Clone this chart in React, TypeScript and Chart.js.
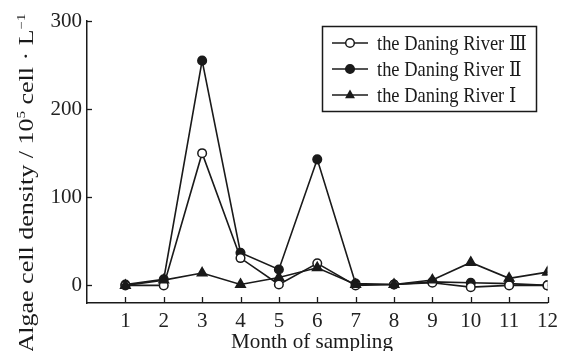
import React, { useEffect, useRef } from 'react';
import { Chart, registerables } from 'chart.js';

Chart.register(...registerables);

const months = [1, 2, 3, 4, 5, 6, 7, 8, 9, 10, 11, 12];
const riverIII = [0, 0, 150, 31, 1, 25, 0, 1, 3, -2, 0, 0];
const riverII = [1, 7, 255, 37, 18, 143, 2, 1, 4, 3, 2, 0];
const riverI = [0, 6, 14, 1, 9, 20, 1, 1, 6, 26, 8, 15];
const yTicks = [0, 100, 200, 300];
const seriesLabels = ['the Daning River \u2162', 'the Daning River \u2161', 'the Daning River \u2160'];
const xTitle = 'Month of sampling';
const yTitleParts: [string, boolean][] = [
  ['Algae cell density / 10', false],
  ['5', true],
  [' cell \u00b7 L', false],
  ['\u22121', true],
];

const FONT = '"Liberation Serif", "DejaVu Serif", "Times New Roman", serif';
const INK = '#1a1a1a';

function drawMarker(ctx: CanvasRenderingContext2D, kind: number, x: number, y: number) {
  ctx.save();
  ctx.lineWidth = 1.5;
  ctx.strokeStyle = INK;
  if (kind === 2) {
    const r = 5.5;
    ctx.beginPath();
    ctx.moveTo(x, y - r);
    ctx.lineTo(x + r * 0.9, y + r * 0.6);
    ctx.lineTo(x - r * 0.9, y + r * 0.6);
    ctx.closePath();
    ctx.fillStyle = INK;
    ctx.fill();
  } else {
    ctx.beginPath();
    ctx.arc(x, y, 4.3, 0, Math.PI * 2);
    ctx.fillStyle = kind === 0 ? '#ffffff' : INK;
    ctx.fill();
    ctx.stroke();
  }
  ctx.restore();
}

const decorPlugin = {
  id: 'decor',
  afterDraw(chart: any) {
    const ctx: CanvasRenderingContext2D = chart.ctx;
    const xs = chart.scales.x;
    const ys = chart.scales.y;
    const area = chart.chartArea;
    ctx.save();
    ctx.strokeStyle = INK;
    ctx.lineWidth = 1.3;
    for (const v of yTicks) {
      const py = Math.round(ys.getPixelForValue(v)) + 0.5;
      ctx.beginPath();
      ctx.moveTo(area.left, py);
      ctx.lineTo(area.left + 5, py);
      ctx.stroke();
    }
    for (const m of months) {
      const px = Math.round(xs.getPixelForValue(m)) + 0.5;
      ctx.beginPath();
      ctx.moveTo(px, area.bottom);
      ctx.lineTo(px, area.bottom - 6);
      ctx.stroke();
    }
    // legend
    const bx = 322, by = 26, bw = 214, bh = 85;
    ctx.lineWidth = 1.5;
    ctx.strokeRect(bx + 0.5, by + 0.5, bw, bh);
    const rowY = [43, 69, 95];
    ctx.font = '21px ' + FONT;
    ctx.fillStyle = INK;
    ctx.textBaseline = 'middle';
    ctx.textAlign = 'left';
    for (let i = 0; i < 3; i++) {
      const y = rowY[i];
      ctx.beginPath();
      ctx.lineWidth = 1.5;
      ctx.moveTo(332, y);
      ctx.lineTo(368, y);
      ctx.stroke();
      drawMarker(ctx, i, 350, y);
      ctx.save();
      ctx.translate(377, y + 1);
      ctx.scale(0.88, 1);
      ctx.fillText(seriesLabels[i], 0, 0);
      ctx.restore();
    }
    // x title
    ctx.save();
    ctx.font = '22px ' + FONT;
    ctx.textBaseline = 'alphabetic';
    ctx.textAlign = 'center';
    ctx.translate(312, 348);
    ctx.scale(0.96, 1);
    ctx.fillText(xTitle, 0, 0);
    ctx.restore();
    // y title
    ctx.save();
    ctx.translate(33, 183);
    ctx.rotate(-Math.PI / 2);
    ctx.scale(1, 0.8);
    ctx.textAlign = 'left';
    ctx.textBaseline = 'alphabetic';
    const mainFont = '26px ' + FONT;
    const supFont = '15px ' + FONT;
    let total = 0;
    for (const [t, sup] of yTitleParts) {
      ctx.font = sup ? supFont : mainFont;
      total += ctx.measureText(t).width;
    }
    let x = -total / 2;
    for (const [t, sup] of yTitleParts) {
      ctx.font = sup ? supFont : mainFont;
      ctx.fillText(t, x, sup ? -10 : 0);
      x += ctx.measureText(t).width;
    }
    ctx.restore();
    ctx.restore();
  },
};

export default function App() {
  const ref = useRef<HTMLCanvasElement>(null);
  useEffect(() => {
    if (!ref.current) return;
    Chart.defaults.font.family = FONT;
    const mk = (label: string, data: number[], style: string, fill: string, r: number) => ({
      label,
      data: months.map((m, i) => ({ x: m, y: data[i] })),
      borderColor: INK,
      borderWidth: 1.6,
      pointStyle: style,
      pointRadius: r,
      pointBackgroundColor: fill,
      pointBorderColor: INK,
      pointBorderWidth: 1.5,
      tension: 0,
    });
    const chart = new Chart(ref.current, {
      type: 'line',
      data: {
        datasets: [
          mk(seriesLabels[2], riverI, 'triangle', INK, 5.5),
          mk(seriesLabels[0], riverIII, 'circle', '#ffffff', 4.3),
          mk(seriesLabels[1], riverII, 'circle', INK, 4.3),
        ],
      },
      options: {
        animation: false,
        responsive: false,
        devicePixelRatio: 1,
        layout: { padding: { top: 21, right: 9, left: 0, bottom: 0 } },
        plugins: { legend: { display: false }, tooltip: { enabled: false } },
        scales: {
          x: {
            type: 'linear',
            min: 0,
            max: 12,
            grid: { display: false, drawTicks: false },
            border: { display: true, color: INK, width: 1.5 },
            afterBuildTicks: (s: any) => {
              s.ticks = months.map((m) => ({ value: m }));
            },
            afterFit: (s: any) => {
              s.height = 48;
            },
            ticks: {
              color: '#222',
              font: { size: 21, family: FONT },
              padding: 6,
              maxRotation: 0,
              autoSkip: false,
              callback: (v: any) => String(v),
            },
          },
          y: {
            type: 'linear',
            min: -20,
            max: 300,
            grid: { display: false, drawTicks: false },
            border: { display: true, color: INK, width: 1.5 },
            afterBuildTicks: (s: any) => {
              s.ticks = yTicks.map((v) => ({ value: v }));
            },
            afterFit: (s: any) => {
              s.width = 87;
            },
            ticks: {
              color: '#222',
              font: { size: 21, family: FONT },
              padding: 5,
              callback: (v: any) => String(v),
            },
          },
        },
      },
      plugins: [decorPlugin],
    } as any);
    return () => chart.destroy();
  }, []);
  return (
    <div style={{ position: 'absolute', left: 0, top: 0, width: 564, height: 351, background: '#fff' }}>
      <canvas ref={ref} width={564} height={351} style={{ display: 'block' }} />
    </div>
  );
}
